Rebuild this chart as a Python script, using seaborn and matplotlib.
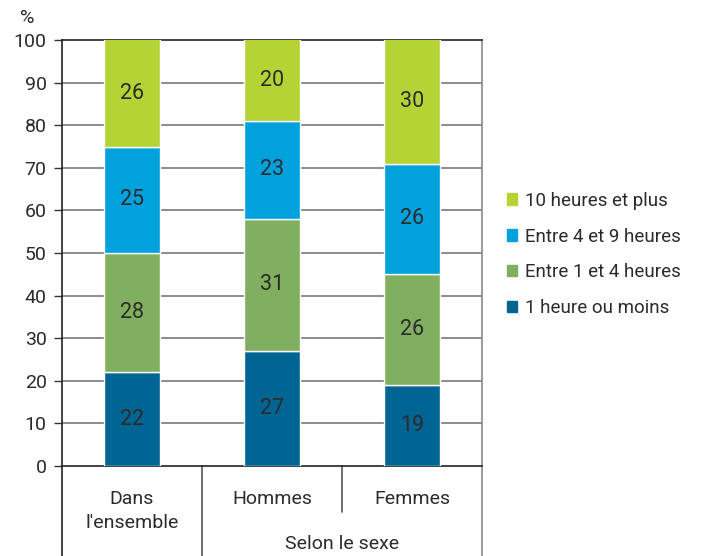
import matplotlib
matplotlib.use("Agg")
import matplotlib.pyplot as plt
import seaborn as sns
import pandas as pd
import numpy as np

# Data
categories = ["Dans l'ensemble", "Hommes", "Femmes"]
cat_labels = ["Dans\nl'ensemble", "Hommes", "Femmes"]
series_names = ["1 heure ou moins", "Entre 1 et 4 heures", "Entre 4 et 9 heures", "10 heures et plus"]
une_heure_ou_moins = [22, 27, 19]
entre_1_et_4 = [28, 31, 26]
entre_4_et_9 = [25, 23, 26]
dix_heures_et_plus = [26, 20, 30]
colors = ["#006592", "#80b05f", "#00a2dd", "#b5d334"]
yticks = [0, 10, 20, 30, 40, 50, 60, 70, 80, 90, 100]

sns.set_theme(style="white")
plt.rcParams["font.family"] = ["Roboto", "DejaVu Sans"]
text_color = "#2b2b2b"

fig = plt.figure(figsize=(7.01, 5.56), dpi=100)
ax = fig.add_axes([62 / 701, 90 / 556, 420 / 701, 426 / 556])

values = [une_heure_ou_moins, entre_1_et_4, entre_4_et_9, dix_heures_et_plus]
bottom = np.zeros(len(categories))
handles = []
for name, vals, col in zip(series_names, values, colors):
    df = pd.DataFrame({"cat": categories, "val": vals})
    sns.barplot(data=df, x="cat", y="val", order=categories, color=col, width=0.4,
                bottom=bottom, edgecolor="white", linewidth=1.0, ax=ax, zorder=3,
                saturation=1, err_kws={"linewidth": 0})
    for i, v in enumerate(vals):
        top = min(bottom[i] + v, 100)
        yc = (bottom[i] + top) / 2
        ax.text(i, yc, str(v), ha="center", va="center", fontsize=15.5,
                color=text_color, zorder=4)
    handles.append(plt.Rectangle((0, 0), 1, 1, color=col))
    bottom = bottom + np.array(vals)

ax.set_xlim(-0.5, 2.5)
ax.set_ylim(0, 100)
ax.set_yticks(yticks)
ax.set_yticklabels([str(t) for t in yticks], fontsize=14, color=text_color)
ax.set_xticks([])
ax.set_xlabel("")
ax.set_ylabel("")
ax.tick_params(axis="y", length=6, width=1, color="#333333", pad=5, left=True)
for t in yticks[1:-1]:
    ax.axhline(t, color="#6e6e6e", linewidth=1.1, zorder=1)

for side in ["left", "bottom", "top"]:
    ax.spines[side].set_color("#222222")
    ax.spines[side].set_linewidth(1.2)
ax.spines["right"].set_color("#8a8a8a")
ax.spines["right"].set_linewidth(1.2)

ax.text(-0.1, 1.03, "%", transform=ax.transAxes, fontsize=14, color=text_color,
        ha="left", va="bottom")

# Category table below the axis
trans = ax.get_xaxis_transform()
lw = 1.2
ax.plot([-0.5, -0.5], [0, -0.2113], transform=trans, color="#222222", lw=lw, clip_on=False)
ax.plot([0.5, 0.5], [0, -0.2113], transform=trans, color="#555555", lw=lw, clip_on=False)
ax.plot([1.5, 1.5], [0, -0.108], transform=trans, color="#555555", lw=lw, clip_on=False)
ax.plot([2.5, 2.5], [0, -0.2113], transform=trans, color="#8a8a8a", lw=lw, clip_on=False)
for i, lab in enumerate(cat_labels):
    ax.text(i, -0.056, lab, transform=trans, ha="center", va="top", fontsize=14,
            color=text_color, linespacing=1.45)
ax.text(1.5, -0.162, "Selon le sexe", transform=trans, ha="center", va="top",
        fontsize=14, color=text_color)

leg = ax.legend(handles[::-1], series_names[::-1], loc="center left",
                bbox_to_anchor=(1.0595, 0.4965), frameon=False, fontsize=13.5,
                handlelength=0.55, handleheight=0.55, handletextpad=0.4,
                labelspacing=0.95, borderpad=0, borderaxespad=0,
                labelcolor=text_color)

fig.savefig("out.png", dpi=100)
